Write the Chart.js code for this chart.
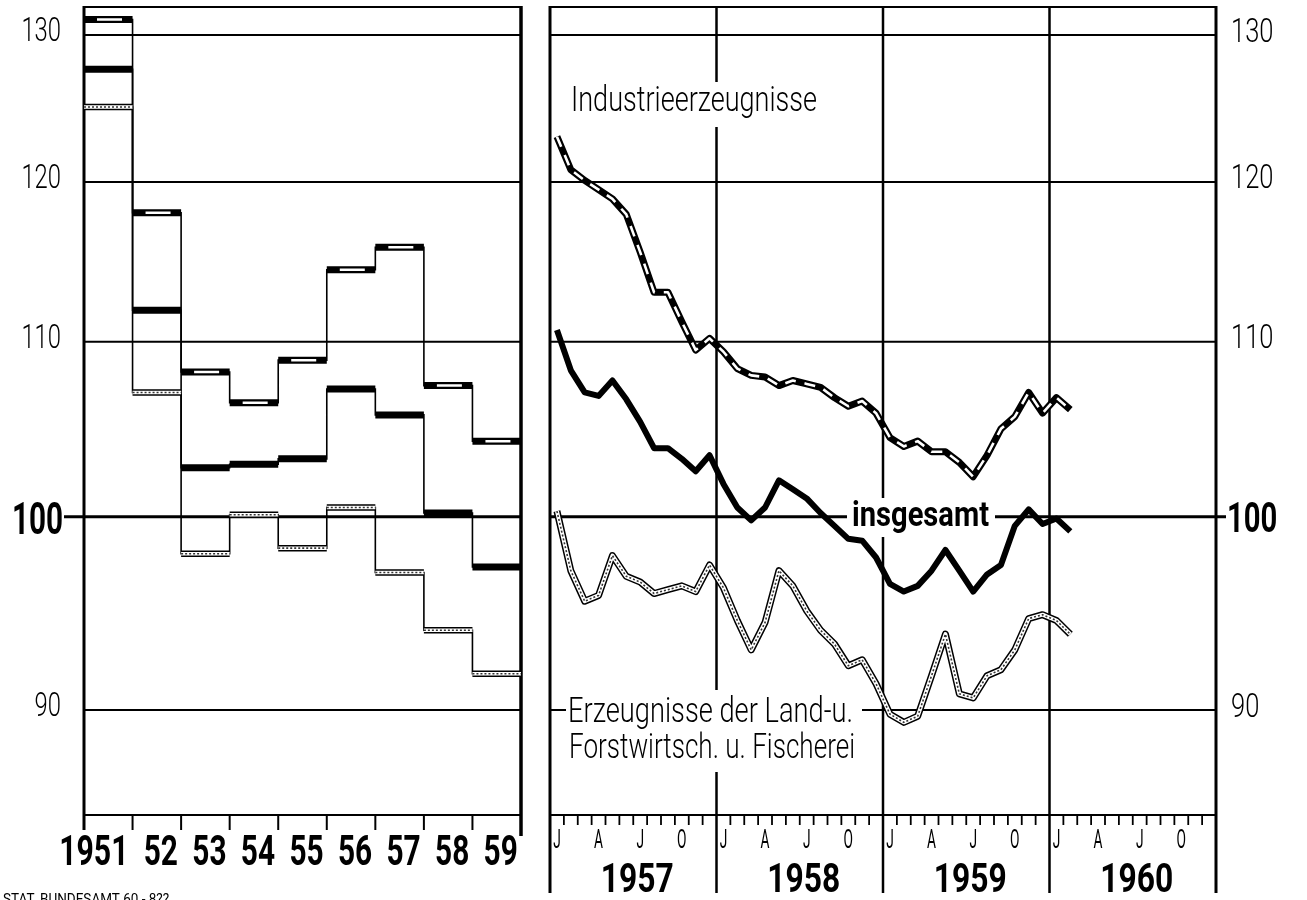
<!DOCTYPE html>
<html lang="de">
<head>
<meta charset="utf-8">
<title>Preisindices der Ausfuhr</title>
<script src="https://cdn.jsdelivr.net/npm/chart.js@4.4.1/dist/chart.umd.min.js"></script>
<style>
  html, body { margin: 0; padding: 0; background: #fff; }
  #page { position: relative; width: 1307px; height: 900px; overflow: hidden; background: #fff; }
  canvas { position: absolute; top: 0; }
  #left { left: 0; }
  #right { left: 540px; }
</style>
</head>
<body>
<div id="page">
  <canvas id="left" width="540" height="900"></canvas>
  <canvas id="right" width="767" height="900"></canvas>
</div>
<script>
// annual values 1951-1959 (left panel)
const annualYears = [1951, 1952, 1953, 1954, 1955, 1956, 1957, 1958, 1959];
const annualLabels = ['1951', '52', '53', '54', '55', '56', '57', '58', '59'];
const annualIndustrie = [131.1, 118.0, 108.2, 106.4, 108.9, 114.4, 115.8, 107.4, 104.2];
const annualInsgesamt = [127.6, 111.9, 102.7, 102.9, 103.2, 107.2, 105.7, 100.2, 97.3];
const annualLand = [125.0, 107.0, 98.0, 100.1, 98.3, 100.5, 97.0, 94.0, 91.8];

// monthly values Jan 1957 - Feb 1960 (right panel)
const monthlyIndustrie = [123.0, 120.8, 120.1, 119.5, 118.9, 117.9, 115.5, 113.0, 113.0, 111.2, 109.5, 110.2,
  109.4, 108.4, 108.0, 107.9, 107.4, 107.7, 107.5, 107.3, 106.7, 106.2, 106.5, 105.8,
  104.4, 103.9, 104.2, 103.6, 103.6, 103.0, 102.2, 103.4, 104.9, 105.6, 107.0, 105.8,
  106.7, 106.0];
const monthlyInsgesamt = [110.7, 108.3, 107.0, 106.8, 107.7, 106.6, 105.3, 103.8, 103.8, 103.2, 102.5, 103.4,
  101.8, 100.5, 99.8, 100.5, 102.0, 101.5, 101.0, 100.2, 99.5, 98.8, 98.7, 97.8,
  96.4, 96.0, 96.3, 97.1, 98.2, 97.1, 96.0, 96.9, 97.4, 99.5, 100.4, 99.6,
  99.9, 99.2];
const monthlyLand = [100.3, 97.1, 95.5, 95.8, 97.9, 96.8, 96.5, 95.9, 96.1, 96.3, 96.0, 97.4,
  96.2, 94.5, 93.0, 94.4, 97.1, 96.3, 95.0, 94.0, 93.3, 92.2, 92.5, 91.3,
  89.8, 89.4, 89.7, 91.7, 93.8, 90.8, 90.6, 91.7, 92.0, 93.0, 94.6, 94.8,
  94.5, 93.8];

const yearLabels = ['1957', '1958', '1959', '1960'];
const quarterLabels = ['J', 'A', 'J', 'O'];
const yTicks = [90, 100, 110, 120, 130];

const FONT = "Roboto, 'DejaVu Sans', sans-serif";

// draw text squeezed horizontally (the original uses a narrow DIN face)
function drawText(ctx, str, x, base, o) {
  ctx.save();
  ctx.font = `${o.weight || 400} ${o.size}px ${FONT}`;
  ctx.textBaseline = 'alphabetic';
  ctx.textAlign = 'left';
  const w = ctx.measureText(str).width;
  const sx = o.width ? o.width / w : (o.sx || 1);
  const ww = w * sx;
  let left = x;
  if (o.align === 'center') left = x - ww / 2;
  else if (o.align === 'right') left = x - ww;
  ctx.translate(left, base);
  ctx.scale(sx, 1);
  ctx.fillStyle = '#000';
  ctx.fillText(str, 0, 0);
  ctx.restore();
}

function line(ctx, x1, y1, x2, y2, w) {
  ctx.lineWidth = w;
  ctx.beginPath();
  ctx.moveTo(x1, y1);
  ctx.lineTo(x2, y2);
  ctx.stroke();
}

// ---------- left panel ----------
function stepData(values) {
  const pts = values.map((v, i) => ({ x: annualYears[i], y: v }));
  pts.push({ x: annualYears[annualYears.length - 1] + 1, y: values[values.length - 1] });
  return pts;
}

function barData(values) {
  const pts = [];
  values.forEach((v, i) => {
    pts.push({ x: annualYears[i], y: v }, { x: annualYears[i] + 1, y: v }, { x: annualYears[i] + 1, y: null });
  });
  return pts;
}

const thinStep = { borderColor: '#000', borderWidth: 1.6, stepped: true, pointRadius: 0, order: 10 };

const leftFrame = {
  id: 'leftFrame',
  beforeDatasetsDraw(chart) {
    const { ctx, chartArea: a, scales: { x, y } } = chart;
    ctx.save();
    ctx.strokeStyle = '#000';
    yTicks.forEach(v => {
      const py = y.getPixelForValue(v);
      line(ctx, v === 100 ? a.left - 20 : a.left, py, a.right, py, v === 100 ? 3 : 2);
    });
    line(ctx, a.left, a.top, a.right, a.top, 2);
    line(ctx, a.left, a.bottom, a.right, a.bottom, 2);
    line(ctx, a.left, a.top - 1, a.left, a.bottom + 15, 3);
    line(ctx, a.right, a.top - 1, a.right, a.bottom + 21, 3.5);
    annualYears.slice(1).forEach(yr => {
      const px = x.getPixelForValue(yr);
      line(ctx, px, a.bottom, px, a.bottom + 15, 2);
    });
    ctx.restore();
  },
  afterDraw(chart) {
    const { ctx, chartArea: a, scales: { x, y } } = chart;
    yTicks.forEach(v => {
      const py = y.getPixelForValue(v);
      if (v === 100) drawText(ctx, String(v), a.left - 21, py + 17.5, { size: 45, weight: 700, sx: 0.66, align: 'right' });
      else drawText(ctx, String(v), a.left - 23, py + 6, { size: 34, weight: 300, sx: 0.7, align: 'right' });
    });
    annualLabels.forEach((lab, i) => {
      const x0 = x.getPixelForValue(annualYears[i]);
      const x1 = x.getPixelForValue(annualYears[i] + 1);
      if (i === 0) drawText(ctx, lab, x1 - 4, a.bottom + 50, { size: 42, weight: 700, sx: 0.72, align: 'right' });
      else drawText(ctx, lab, (x0 + x1) / 2 + 4, a.bottom + 50, { size: 42, weight: 700, sx: 0.71, align: 'center' });
    });
    drawText(ctx, 'STAT. BUNDESAMT 60 - 8??', 3, 904, { size: 15, weight: 400, sx: 0.9 });
  }
};

new Chart(document.getElementById('left'), {
  type: 'line',
  data: {
    datasets: [
      { ...thinStep, data: stepData(annualIndustrie) },
      { ...thinStep, data: stepData(annualInsgesamt) },
      { ...thinStep, data: stepData(annualLand) },
      { data: barData(annualIndustrie), borderColor: '#000', borderWidth: 7, pointRadius: 0, order: 5 },
      { data: barData(annualIndustrie), borderColor: '#fff', borderWidth: 2.5, pointRadius: 0, order: 2,
        borderDash: [25, 100], borderDashOffset: 112 },
      { data: barData(annualInsgesamt), borderColor: '#000', borderWidth: 7, pointRadius: 0, order: 5 },
      { data: barData(annualLand), borderColor: '#000', borderWidth: 6.5, pointRadius: 0, order: 5 },
      { data: barData(annualLand), borderColor: '#fff', borderWidth: 3.5, pointRadius: 0, order: 3 },
      { data: barData(annualLand), borderColor: '#333', borderWidth: 1.6, pointRadius: 0, order: 1, borderDash: [2, 2] }
    ]
  },
  options: {
    responsive: false,
    animation: false,
    devicePixelRatio: 1,
    events: [],
    spanGaps: false,
    layout: { padding: { left: 84, right: 19, top: 7, bottom: 85 } },
    plugins: { legend: { display: false }, tooltip: { enabled: false } },
    scales: {
      x: { type: 'linear', min: 1951, max: 1960, display: false },
      y: { type: 'logarithmic', min: 85, max: 132, display: false }
    }
  },
  plugins: [leftFrame]
});

// ---------- right panel ----------
const monthPoints = values => values.map((v, i) => ({ x: i + 0.5, y: v }));
const lineBase = { pointRadius: 0, tension: 0, borderJoinStyle: 'round', borderCapStyle: 'butt' };

// white boxes that cut the grid behind the labels
const labelBoxes = [
  { x: 26, y: 82, w: 260, h: 45 },
  { x: 307, y: 498, w: 148, h: 39 },
  { x: 26, y: 690, w: 296, h: 82 }
];

const rightFrame = {
  id: 'rightFrame',
  beforeDatasetsDraw(chart) {
    const { ctx, chartArea: a, scales: { x, y } } = chart;
    ctx.save();
    ctx.strokeStyle = '#000';
    yTicks.forEach(v => {
      const py = y.getPixelForValue(v);
      line(ctx, a.left, py, v === 100 ? a.right + 10 : a.right, py, v === 100 ? 3 : 2);
    });
    line(ctx, a.left, a.top, a.right, a.top, 2);
    line(ctx, a.left, a.bottom, a.right, a.bottom, 2);
    for (let m = 1; m < 48; m++) {
      if (m % 12 === 0) continue;
      const px = x.getPixelForValue(m);
      line(ctx, px, a.bottom, px, a.bottom + 10, 1.8);
    }
    [0, 12, 24, 36, 48].forEach(m => {
      const px = x.getPixelForValue(m);
      line(ctx, px, a.top - 1, px, a.bottom + 78, (m === 0 || m === 48) ? 3 : 2.5);
    });
    ctx.fillStyle = '#fff';
    labelBoxes.forEach(b => ctx.fillRect(b.x, b.y, b.w, b.h));
    ctx.restore();
  },
  afterDraw(chart) {
    const { ctx, chartArea: a, scales: { x, y } } = chart;
    yTicks.forEach(v => {
      const py = y.getPixelForValue(v);
      if (v === 100) drawText(ctx, String(v), a.right + 11, py + 15, { size: 43, weight: 700, sx: 0.68 });
      else drawText(ctx, String(v), a.right + 15, py + 6.5, { size: 34, weight: 300, sx: 0.75 });
    });
    yearLabels.forEach((lab, i) => {
      const cx = (x.getPixelForValue(i * 12) + x.getPixelForValue(i * 12 + 12)) / 2 + 4;
      drawText(ctx, lab, cx, a.bottom + 77, { size: 41, weight: 700, width: 73, align: 'center' });
      quarterLabels.forEach((q, k) => {
        const m = i * 12 + k * 3;
        drawText(ctx, q, x.getPixelForValue(m + 0.5), a.bottom + 33, { size: 25, weight: 400, sx: 0.55, align: 'center' });
      });
    });
    drawText(ctx, 'Industrieerzeugnisse', 31, 111, { size: 35, weight: 300, width: 246 });
    drawText(ctx, 'insgesamt', 312, 526, { size: 35, weight: 700, width: 137 });
    drawText(ctx, 'Erzeugnisse der Land-u.', 28, 722, { size: 35, weight: 300, width: 285 });
    drawText(ctx, 'Forstwirtsch. u. Fischerei', 29, 758, { size: 35, weight: 300, width: 286 });
  }
};

new Chart(document.getElementById('right'), {
  type: 'line',
  data: {
    datasets: [
      { ...lineBase, data: monthPoints(monthlyLand), borderColor: '#000', borderWidth: 7, order: 6 },
      { ...lineBase, data: monthPoints(monthlyLand), borderColor: '#fff', borderWidth: 4, order: 5 },
      { ...lineBase, data: monthPoints(monthlyLand), borderColor: '#333', borderWidth: 1.6, borderDash: [2, 2], order: 4 },
      { ...lineBase, data: monthPoints(monthlyInsgesamt), borderColor: '#000', borderWidth: 6, order: 3 },
      { ...lineBase, data: monthPoints(monthlyIndustrie), borderColor: '#000', borderWidth: 7, order: 2 },
      { ...lineBase, data: monthPoints(monthlyIndustrie), borderColor: '#fff', borderWidth: 2.6, borderDash: [11, 9], order: 1 }
    ]
  },
  options: {
    responsive: false,
    animation: false,
    devicePixelRatio: 1,
    events: [],
    layout: { padding: { left: 10, right: 91, top: 7, bottom: 85 } },
    plugins: { legend: { display: false }, tooltip: { enabled: false } },
    scales: {
      x: { type: 'linear', min: 0, max: 48, display: false },
      y: { type: 'logarithmic', min: 85, max: 132, display: false }
    }
  },
  plugins: [rightFrame]
});
</script>
</body>
</html>
